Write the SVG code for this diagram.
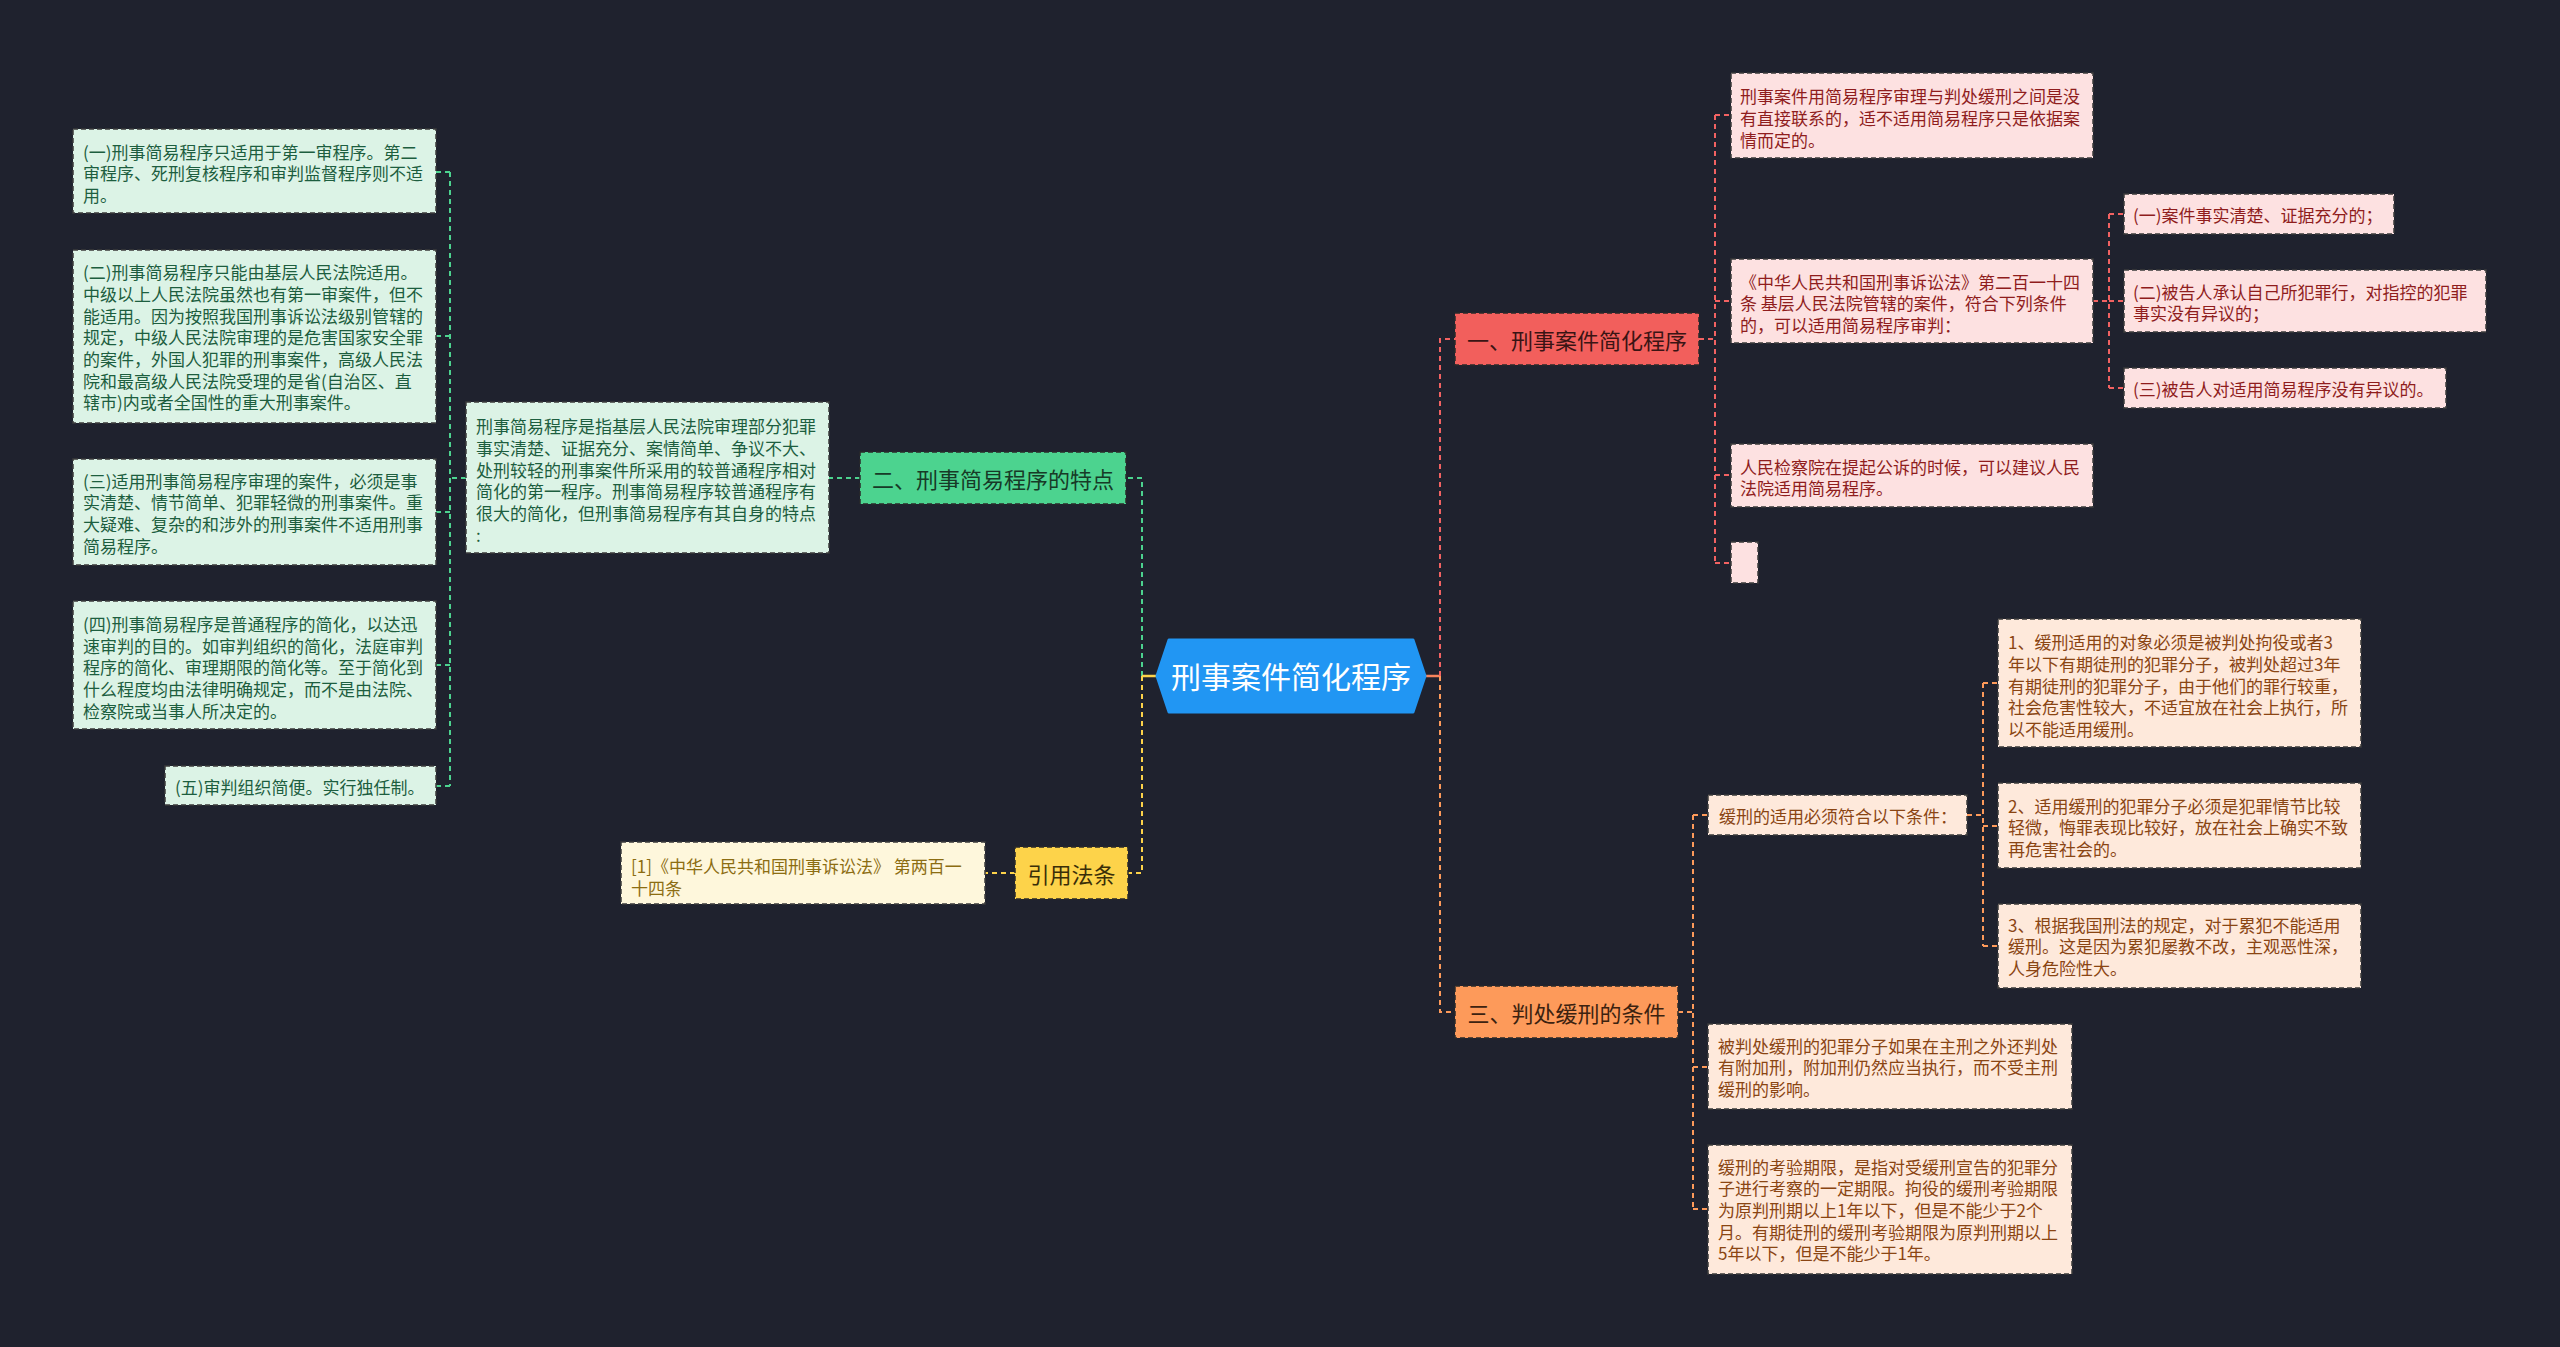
<svg xmlns="http://www.w3.org/2000/svg" width="2560" height="1347" viewBox="0 0 2560 1347">
<style>
text{font-family:"Noto Sans CJK SC","Noto Sans",sans-serif;dominant-baseline:central}
.leaf{stroke:#3b3b3b;stroke-width:1.5;stroke-dasharray:5 3}
.g{fill:#dcf3e6}.gt{fill:#1d5e3f;font-size:17px}
.p{fill:#fde1e1}.pt{fill:#8f1d1d;font-size:17px}
.o{fill:#fee9db}.ot{fill:#8a4513;font-size:17px}
.y{fill:#fef7dc}.yt{fill:#8c6d12;font-size:17px}
.l1{stroke:#2a2a2a;stroke-width:1.5;stroke-dasharray:5 3}
.l1t{font-size:22px;text-anchor:middle}
.c{fill:none;stroke-width:2;stroke-dasharray:5 4}
.cg{stroke:#4cd38f}.cy{stroke:#fdd34a}.cr{stroke:#f26262}.co{stroke:#fd9a5a}
</style>
<rect width="2560" height="1347" fill="#1f222e"/>
<g id="connectors">
<path class="c cg" d="M1142,676 V478 H1127"/>
<path class="c cg" d="M860,478 H829"/>
<path class="c cg" d="M466,478 H450 M450,172 V786 M436,172 H450 M436,336 H450 M436,512 H450 M436,665 H450 M436,786 H450"/>
<path d="M1142,676 H1158" stroke="#fdd34a" stroke-width="2.5" fill="none"/>
<path class="c cy" d="M1142,676 V873 H1128"/>
<path class="c cy" d="M1015,873 H985"/>
<path d="M1425,676 H1440" stroke="#f7845c" stroke-width="2.5" fill="none"/>
<path class="c cr" d="M1440,676 V339 H1455"/>
<path class="c cr" d="M1699,339 H1715 M1715,115 V563 M1715,115 H1731 M1715,301 H1731 M1715,475 H1731 M1715,563 H1731"/>
<path class="c cr" d="M2093,301 H2109 M2109,214 V388 M2109,214 H2124 M2109,301 H2124 M2109,388 H2124"/>
<path class="c co" d="M1440,676 V1012 H1455"/>
<path class="c co" d="M1678,1012 H1693 M1693,815 V1209 M1693,815 H1708 M1693,1067 H1708 M1693,1209 H1708"/>
<path class="c co" d="M1967,815 H1983 M1983,683 V946 M1983,683 H1998 M1983,826 H1998 M1983,946 H1998"/>
</g>
<g id="root">
<polygon points="1169,640 1413,640 1425,676 1413,712 1169,712 1157,676" fill="#2196f3" stroke="#2196f3" stroke-width="3" stroke-linejoin="round"/>
<text x="1291" y="675" fill="#ffffff" font-size="30" text-anchor="middle">刑事案件简化程序</text>
</g>
<g id="n2">
<rect class="l1" x="860" y="452" width="266" height="52" fill="#4cd38f"/>
<text class="l1t" x="993" y="478" fill="#173a27">二、刑事简易程序的特点</text>
</g>
<g id="n2desc">
<rect class="leaf g" x="466" y="402" width="363" height="151"/>
<text class="gt" x="476" y="425.7">刑事简易程序是指基层人民法院审理部分犯罪</text>
<text class="gt" x="476" y="447.3">事实清楚、证据充分、案情简单、争议不大、</text>
<text class="gt" x="476" y="469">处刑较轻的刑事案件所采用的较普通程序相对</text>
<text class="gt" x="476" y="490.7">简化的第一程序。刑事简易程序较普通程序有</text>
<text class="gt" x="476" y="512.3">很大的简化，但刑事简易程序有其自身的特点</text>
<text class="gt" x="476" y="534">:</text>
</g>
<g id="g1">
<rect class="leaf g" x="73" y="129" width="363" height="84"/>
<text class="gt" x="83" y="151">(一)刑事简易程序只适用于第一审程序。第二</text>
<text class="gt" x="83" y="172.7">审程序、死刑复核程序和审判监督程序则不适</text>
<text class="gt" x="83" y="194.4">用。</text>
</g>
<g id="g2">
<rect class="leaf g" x="73" y="250" width="363" height="173"/>
<text class="gt" x="83" y="271.7">(二)刑事简易程序只能由基层人民法院适用。</text>
<text class="gt" x="83" y="293.3">中级以上人民法院虽然也有第一审案件，但不</text>
<text class="gt" x="83" y="315">能适用。因为按照我国刑事诉讼法级别管辖的</text>
<text class="gt" x="83" y="336.7">规定，中级人民法院审理的是危害国家安全罪</text>
<text class="gt" x="83" y="358.3">的案件，外国人犯罪的刑事案件，高级人民法</text>
<text class="gt" x="83" y="380">院和最高级人民法院受理的是省(自治区、直</text>
<text class="gt" x="83" y="401.7">辖市)内或者全国性的重大刑事案件。</text>
</g>
<g id="g3">
<rect class="leaf g" x="73" y="459" width="363" height="106"/>
<text class="gt" x="83" y="480">(三)适用刑事简易程序审理的案件，必须是事</text>
<text class="gt" x="83" y="501.7">实清楚、情节简单、犯罪轻微的刑事案件。重</text>
<text class="gt" x="83" y="523.3">大疑难、复杂的和涉外的刑事案件不适用刑事</text>
<text class="gt" x="83" y="545">简易程序。</text>
</g>
<g id="g4">
<rect class="leaf g" x="73" y="601" width="363" height="128"/>
<text class="gt" x="83" y="623.3">(四)刑事简易程序是普通程序的简化，以达迅</text>
<text class="gt" x="83" y="645">速审判的目的。如审判组织的简化，法庭审判</text>
<text class="gt" x="83" y="666.7">程序的简化、审理期限的简化等。至于简化到</text>
<text class="gt" x="83" y="688.3">什么程度均由法律明确规定，而不是由法院、</text>
<text class="gt" x="83" y="710">检察院或当事人所决定的。</text>
</g>
<g id="g5">
<rect class="leaf g" x="165" y="766" width="271" height="39"/>
<text class="gt" x="175" y="786">(五)审判组织简便。实行独任制。</text>
</g>
<g id="nref">
<rect class="l1" x="1015" y="847" width="113" height="52" fill="#fdd34a"/>
<text class="l1t" x="1071.5" y="873" fill="#3a2e08">引用法条</text>
</g>
<g id="ref1">
<rect class="leaf y" x="621" y="842" width="364" height="62"/>
<text class="yt" x="631" y="865">[1]《中华人民共和国刑事诉讼法》 第两百一</text>
<text class="yt" x="631" y="887">十四条</text>
</g>
<g id="n1">
<rect class="l1" x="1455" y="313" width="244" height="52" fill="#f25f5c"/>
<text class="l1t" x="1577" y="339" fill="#3a1414">一、刑事案件简化程序</text>
</g>
<g id="a">
<rect class="leaf p" x="1731" y="73" width="362" height="85"/>
<text class="pt" x="1740" y="95">刑事案件用简易程序审理与判处缓刑之间是没</text>
<text class="pt" x="1740" y="117">有直接联系的，适不适用简易程序只是依据案</text>
<text class="pt" x="1740" y="139">情而定的。</text>
</g>
<g id="b">
<rect class="leaf p" x="1731" y="259" width="362" height="84"/>
<text class="pt" x="1740" y="281">《中华人民共和国刑事诉讼法》第二百一十四</text>
<text class="pt" x="1740" y="302.7">条 基层人民法院管辖的案件，符合下列条件</text>
<text class="pt" x="1740" y="324.3">的，可以适用简易程序审判：</text>
</g>
<g id="c1">
<rect class="leaf p" x="2124" y="194" width="270" height="40"/>
<text class="pt" x="2133" y="214">(一)案件事实清楚、证据充分的；</text>
</g>
<g id="c2">
<rect class="leaf p" x="2124" y="270" width="362" height="62"/>
<text class="pt" x="2133" y="291">(二)被告人承认自己所犯罪行，对指控的犯罪</text>
<text class="pt" x="2133" y="312.7">事实没有异议的；</text>
</g>
<g id="c3">
<rect class="leaf p" x="2124" y="368" width="322" height="40"/>
<text class="pt" x="2133" y="388">(三)被告人对适用简易程序没有异议的。</text>
</g>
<g id="d">
<rect class="leaf p" x="1731" y="444" width="362" height="63"/>
<text class="pt" x="1740" y="466">人民检察院在提起公诉的时候，可以建议人民</text>
<text class="pt" x="1740" y="487.7">法院适用简易程序。</text>
</g>
<g id="e">
<rect class="leaf p" x="1731" y="542" width="27" height="41"/>
</g>
<g id="n3">
<rect class="l1" x="1455" y="986" width="223" height="52" fill="#fd9a5a"/>
<text class="l1t" x="1566.5" y="1012" fill="#3c2210">三、判处缓刑的条件</text>
</g>
<g id="f">
<rect class="leaf o" x="1708" y="795" width="259" height="40"/>
<text class="ot" x="1719" y="815">缓刑的适用必须符合以下条件：</text>
</g>
<g id="f1">
<rect class="leaf o" x="1998" y="619" width="363" height="128"/>
<text class="ot" x="2008" y="641.7">1、缓刑适用的对象必须是被判处拘役或者3</text>
<text class="ot" x="2008" y="663.3">年以下有期徒刑的犯罪分子，被判处超过3年</text>
<text class="ot" x="2008" y="685">有期徒刑的犯罪分子，由于他们的罪行较重，</text>
<text class="ot" x="2008" y="706.7">社会危害性较大，不适宜放在社会上执行，所</text>
<text class="ot" x="2008" y="728.3">以不能适用缓刑。</text>
</g>
<g id="f2">
<rect class="leaf o" x="1998" y="783" width="363" height="85"/>
<text class="ot" x="2008" y="805">2、适用缓刑的犯罪分子必须是犯罪情节比较</text>
<text class="ot" x="2008" y="826.7">轻微，悔罪表现比较好，放在社会上确实不致</text>
<text class="ot" x="2008" y="848.3">再危害社会的。</text>
</g>
<g id="f3">
<rect class="leaf o" x="1998" y="904" width="363" height="84"/>
<text class="ot" x="2008" y="924">3、根据我国刑法的规定，对于累犯不能适用</text>
<text class="ot" x="2008" y="945.7">缓刑。这是因为累犯屡教不改，主观恶性深，</text>
<text class="ot" x="2008" y="967.3">人身危险性大。</text>
</g>
<g id="h">
<rect class="leaf o" x="1708" y="1024" width="364" height="85"/>
<text class="ot" x="1718" y="1045">被判处缓刑的犯罪分子如果在主刑之外还判处</text>
<text class="ot" x="1718" y="1066.7">有附加刑，附加刑仍然应当执行，而不受主刑</text>
<text class="ot" x="1718" y="1088.3">缓刑的影响。</text>
</g>
<g id="i">
<rect class="leaf o" x="1708" y="1145" width="364" height="129"/>
<text class="ot" x="1718" y="1166">缓刑的考验期限，是指对受缓刑宣告的犯罪分</text>
<text class="ot" x="1718" y="1187.7">子进行考察的一定期限。拘役的缓刑考验期限</text>
<text class="ot" x="1718" y="1209.3">为原判刑期以上1年以下，但是不能少于2个</text>
<text class="ot" x="1718" y="1231">月。有期徒刑的缓刑考验期限为原判刑期以上</text>
<text class="ot" x="1718" y="1252.7">5年以下，但是不能少于1年。</text>
</g>
</svg>
